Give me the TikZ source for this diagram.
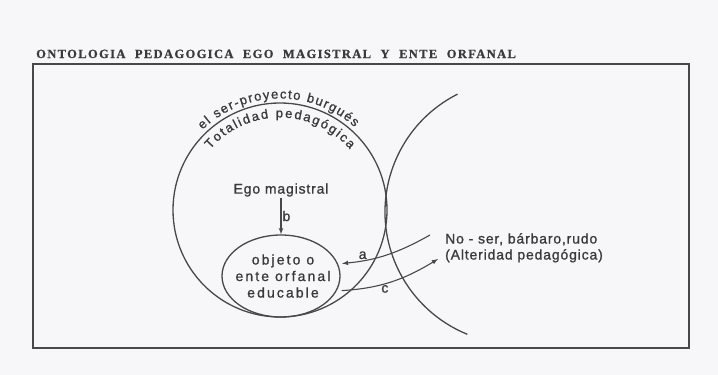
\documentclass[tikz,border=0pt]{standalone}
\usepackage{fontspec}
\setmainfont{Liberation Serif}
\setsansfont{Liberation Sans}
\newfontfamily\labelfont[LetterSpace=6, FakeBold=1]{Liberation Sans}
\newfontfamily\ovalfont[LetterSpace=15, FakeBold=1]{Liberation Sans}
\newfontfamily\arcfont[FakeBold=1]{Liberation Sans}
\newfontfamily\titlefont[LetterSpace=11, FakeBold=0.8]{Liberation Serif}
\usetikzlibrary{shapes.geometric,decorations.text}
\definecolor{paper}{RGB}{247,247,250}
\definecolor{ink}{RGB}{72,72,72}
\definecolor{textink}{RGB}{58,58,58}

\begin{document}
\begin{tikzpicture}[x=1pt, y=1pt,
    line/.style={draw=ink, line width=1.3pt},
    lbl/.style={text=textink, font=\labelfont\fontsize{14}{16}\selectfont, inner sep=1pt},
    arrowline/.style={draw=ink, line width=1.1pt, -latex}]
    \fill[paper] (0,0) rectangle (718,-375);

    \node[anchor=base west, inner sep=0pt, text=textink] (title) at (36,-58)
      {\titlefont\bfseries\fontsize{12.5}{13}\selectfont ONTOLOGIA\hspace{5pt} PEDAGOGICA\hspace{5pt} EGO\hspace{5pt} MAGISTRAL\hspace{5pt} Y\hspace{5pt} ENTE\hspace{5pt} ORFANAL};
    \draw[line, line width=1.5pt] (33,-64) rectangle (689,-348);

    \coordinate (totalidad) at (280,-210);
    \coordinate (alteridad) at (517,-212);
    \draw[line] (totalidad) circle[radius=107];
    \draw[line] (alteridad) ++(116.8:132) arc[start angle=116.8, end angle=247.9, radius=132];

    \path[decorate, decoration={text along path, text align={fit to path},
      text={|\arcfont\fontsize{13}{13}\selectfont\color{textink}|el ser-proyecto burgués}}]
      (totalidad) ++(134:111.5) arc[start angle=134, end angle=48, radius=111.5];
    \path[decorate, decoration={text along path, text align={fit to path},
      text={|\arcfont\fontsize{13}{13}\selectfont\color{textink}|Totalidad pedagógica}}]
      (totalidad) ++(139:92.5) arc[start angle=139, end angle=41, radius=92.5];

    \node[ellipse, line, minimum width=118pt, minimum height=82pt, inner sep=0pt,
      label={[lbl, font=\ovalfont\fontsize{14}{16.5}\selectfont, align=center, xshift=2pt]center:objeto o\\ente orfanal\\educable}]
      (orfanal) at (281,-276) {};
    \node[lbl] (ego) at (281,-190) {Ego magistral};
    \draw[arrowline] (ego) -- (orfanal) node[midway, right, lbl] {b};

    \coordinate (aout) at (430,-235);
    \coordinate (cout) at (438,-259);
    \draw[arrowline, shorten >=4pt] (aout) to[bend left=12] node[pos=0.76, above, lbl] {a} (orfanal.12);
    \draw[arrowline, shorten <=5pt] (orfanal.-15) to[bend right=14] node[pos=0.45, below, lbl] {c} (cout);

    \node[lbl, anchor=north west, align=left] (noser) at (444,-232) {No - ser, bárbaro,rudo\\(Alteridad pedagógica)};
\end{tikzpicture}
\end{document}
